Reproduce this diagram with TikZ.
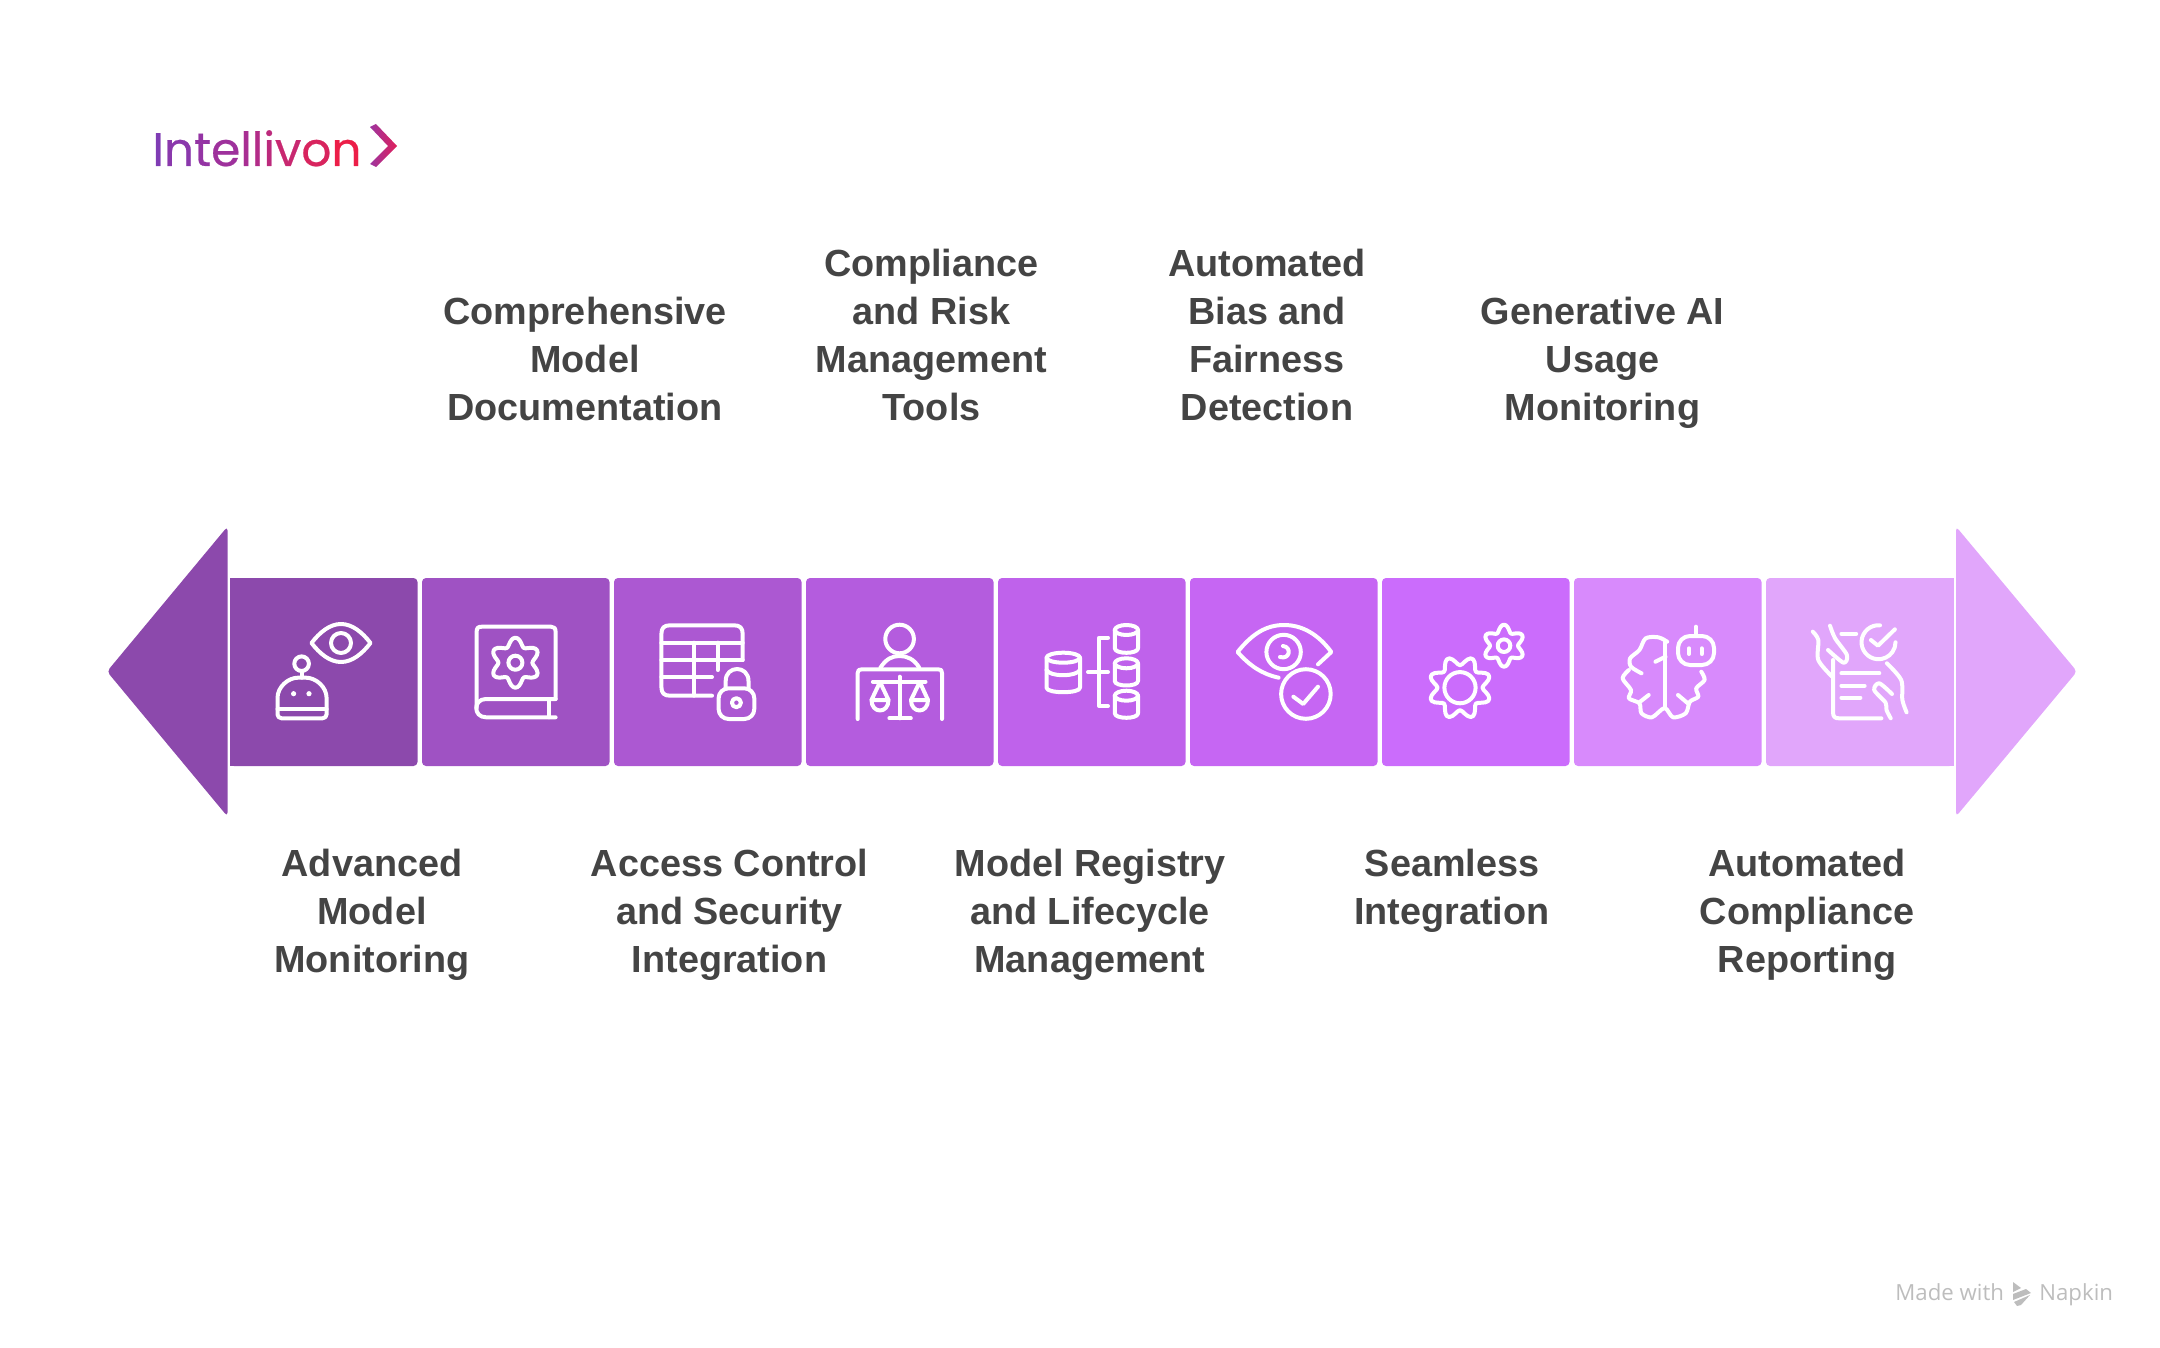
\documentclass[tikz,border=0pt]{standalone}
\usepackage{fontspec}
\setmainfont{Liberation Sans}
\newfontfamily\logofont[FakeBold=0.5]{Poppins}
\newfontfamily\footfont{Open Sans}
\usetikzlibrary{positioning}
\definecolor{ink}{HTML}{444444}
\definecolor{footgray}{HTML}{BDBDBD}
\definecolor{chevA}{HTML}{9C35A0}
\definecolor{chevB}{HTML}{E0205A}
\definecolor{cA}{HTML}{8C49AC}
\definecolor{cB}{HTML}{9F52C3}
\definecolor{cC}{HTML}{AC58D2}
\definecolor{cD}{HTML}{B45CDE}
\definecolor{cE}{HTML}{BF62EB}
\definecolor{cF}{HTML}{C666F3}
\definecolor{cG}{HTML}{CB6CFC}
\definecolor{cH}{HTML}{D88AFC}
\definecolor{cI}{HTML}{E1A6FB}
\tikzset{
	cell/.style={rectangle,rounded corners=2pt,minimum width=93.75pt,minimum height=94pt,inner sep=0pt},
	lab/.style={align=center,text=ink,inner sep=0pt,font=\fontsize{18.9}{24}\selectfont\bfseries},
	ico/.style={draw=white,line width=2pt,line cap=round,line join=round},
	logo/.style={inner sep=0pt,anchor=base west,font=\logofont\fontsize{23.5}{23.5}\selectfont},
	foot/.style={inner sep=0pt,anchor=base west,text=footgray,font=\footfont\fontsize{11.1}{12}\selectfont}
}
\newcommand{\gearline}[6]{%
	\draw[ico,shift={(#1,#2)}] plot[smooth cycle,domain=0:355,samples=72,variable=\t]
		({(#3+#4*cos(#5*(\t-#6)))*cos(\t)},{(#3+#4*cos(#5*(\t-#6)))*sin(\t)});
}
\newcommand{\dbline}[4]{%
	\draw[ico] (#1,{#3+5}) -- (#1,{#4-5}) .. controls (#1,{#4+1}) and (#2,{#4+1}) .. (#2,{#4-5}) -- (#2,{#3+5});
	\draw[ico] ({(#1+#2)/2},{#3+5}) ellipse [x radius={(#2-#1)/2},y radius=5];
}

\begin{document}
\begin{tikzpicture}[x=0.5pt,y=-0.5pt]
	\useasboundingbox (0,0) rectangle (2160,1348);
	
	%Arrows
	\fill[cA,rounded corners=2pt] (227.5,526.5) -- (107,671.5) -- (227.5,816.5) -- cycle;
	\fill[cI,rounded corners=2pt] (1956,526.5) -- (2077,671.5) -- (1956,816.5) -- cycle;
	
	%Cells
	\foreach \i/\c in {0/cA,1/cB,2/cC,3/cD,4/cE,5/cF,6/cG,7/cH,8/cI} {
		\node[cell,fill=\c] (cell\i) at ({323.75+192*\i},672) {};
	}
	\fill[cA] (cell0.south west) rectangle ([xshift=10pt]cell0.north west);
	\fill[cI] (cell8.south east) rectangle ([xshift=-10pt]cell8.north east);
	
	%Labels above
	\node[lab] (docu) at (585,358.6) {Comprehensive\\Model\\Documentation};
	\node[lab] (risk) at (931.5,334.6) {Compliance\\and Risk\\Management\\Tools};
	\node[lab] (bias) at (1267,334.6) {Automated\\Bias and\\Fairness\\Detection};
	\node[lab] (genai) at (1602.5,362.7) {Generative AI\\Usage\\Monitoring};
	
	%Labels below
	\node[lab] (moni) at (372,914.7) {Advanced\\Model\\Monitoring};
	\node[lab] (acce) at (729.5,914.7) {Access Control\\and Security\\Integration};
	\node[lab] (regi) at (1090,914.7) {Model Registry\\and Lifecycle\\Management};
	\node[lab] (seam) at (1452,890.7) {Seamless\\Integration};
	\node[lab] (repo) at (1807,914.7) {Automated\\Compliance\\Reporting};
	
	%Logo
	\node[logo] (logotext) at (152,166) {\textcolor[HTML]{7F3CB4}{I}\textcolor[HTML]{8A38AC}{n}\textcolor[HTML]{9434A4}{t}\textcolor[HTML]{9E319C}{e}\textcolor[HTML]{A82E92}{l}\textcolor[HTML]{B22C88}{l}\textcolor[HTML]{BC2A7C}{i}\textcolor[HTML]{C82870}{v}\textcolor[HTML]{D8245E}{o}\textcolor[HTML]{EC1E48}{n}};
	\shade[left color=chevA,right color=chevB] (370,127) -- (376,124) -- (397,146) -- (376,167) -- (370,164) -- (388,146) -- cycle;
	
	%Footer
	\node[foot] (made) at (1895,1300) {Made with};
	\node[foot] (napk) at (2039,1300) {Napkin};
	\fill[footgray] (2013,1282) -- (2021,1288) -- (2013,1292) -- cycle
		(2013,1294) -- (2026,1289) -- (2031,1293) -- (2013,1300) -- cycle
		(2014,1302) -- (2030,1295) -- (2021,1305) -- (2017,1306) -- cycle;
	
	%Robot and eye
	\draw[ico] (311.5,643) .. controls (320,632) and (330,624) .. (341,624) .. controls (352,624) and (362,632) .. (370.5,643) .. controls (362,654) and (352,662) .. (341,662) .. controls (330,662) and (320,654) .. (311.5,643) -- cycle;
	\draw[ico] (341,643) circle [radius=10];
	\draw[ico] (301.6,663.7) circle [radius=7.3];
	\draw[ico] (301.6,671) -- (301.6,677.7);
	\draw[ico,rounded corners=2pt] (277.5,718.3) -- (277.5,702) .. controls (277.5,687) and (288,677.7) .. (302,677.7) .. controls (316,677.7) and (326.6,687) .. (326.6,702) -- (326.6,718.3) -- cycle;
	\draw[ico] (277.5,709.3) -- (326.6,709.3);
	\fill[white] (293.6,693.7) circle [radius=2.6] (309,693.7) circle [radius=2.6];
	
	%Book
	\draw[ico] (555.6,699) -- (555.6,632) .. controls (555.6,628) and (554,626.7) .. (551,626.7) -- (482,626.7) .. controls (478,626.7) and (476.6,628) .. (476.6,632) -- (476.6,708);
	\draw[ico] (555.6,699) -- (486,699) .. controls (473,699) and (473,717.3) .. (486,717.3) -- (555.6,717.3);
	\draw[ico] (549,699) -- (549,717.3);
	\gearline{515.4}{662.7}{21}{4}{6}{90}
	\draw[ico] (515.4,662.7) circle [radius=7];
	
	%Table and lock
	\draw[ico] (712,695.7) -- (670,695.7) .. controls (664,695.7) and (661.4,693) .. (661.4,687) -- (661.4,634) .. controls (661.4,628) and (664,625.3) .. (670,625.3) -- (734,625.3) .. controls (740,625.3) and (742.7,628) .. (742.7,634) -- (742.7,660);
	\draw[ico] (661.4,642.7) -- (742.7,642.7) (661.4,660) -- (742.7,660) (661.4,677) -- (712,677);
	\draw[ico] (694,642.7) -- (694,695.7) (717.7,642.7) -- (717.7,670);
	\draw[ico,rounded corners=5pt] (718.6,688.3) rectangle (754.3,719);
	\draw[ico] (725.7,688.3) -- (725.7,681) .. controls (725.7,665) and (748.5,665) .. (748.5,681) -- (748.5,688.3);
	\draw[ico] (736.4,702.7) circle [radius=4.5];
	
	%Person with scales
	\draw[ico] (899.6,639) circle [radius=14.3];
	\draw[ico] (880.4,667.7) .. controls (886,659) and (892,656) .. (899.6,656) .. controls (907,656) and (914,659) .. (919.3,667.7);
	\draw[ico] (857.7,719) -- (857.7,673) .. controls (857.7,670) and (859,669.3) .. (862,669.3) -- (938,669.3) .. controls (941,669.3) and (942,670) .. (942,673) -- (942,719);
	\draw[ico] (872.9,681.7) -- (925.5,681.7) (899.6,676.7) -- (899.6,718.3) (889.4,718.3) -- (910.8,718.3);
	\draw[ico] (880,682) -- (871.5,700) -- (888.5,700) -- cycle (919.7,682) -- (911,700) -- (928,700) -- cycle;
	\draw[ico] (871.5,700) .. controls (871.5,714) and (888.5,714) .. (888.5,700);
	\draw[ico] (911,700) .. controls (911,714) and (928,714) .. (928,700);
	
	%Databases
	\dbline{1046.5}{1080}{652.7}{692.7}
	\draw[ico] (1046.5,670) .. controls (1050,677) and (1076,677) .. (1080,670);
	\dbline{1114.8}{1138}{625}{653.3}
	\dbline{1114.8}{1138}{658.3}{686}
	\dbline{1114.8}{1138}{690.7}{718.3}
	\draw[ico] (1108,637.7) -- (1099,637.7) -- (1099,706) -- (1108,706);
	\draw[ico] (1088,672) -- (1108,672);
	
	%Eye and check
	\draw[ico] (1278.6,677.7) .. controls (1262,674) and (1250,666) .. (1237.6,652) .. controls (1252,634) and (1266,625) .. (1284,625) .. controls (1302,625) and (1318,634) .. (1331.3,652) -- (1318,664.3);
	\draw[ico] (1283.6,652) circle [radius=17.2];
	\draw[ico] (1283,646) .. controls (1292,647) and (1290,660) .. (1280,657);
	\draw[ico] (1305.9,694) circle [radius=24.8];
	\draw[ico] (1293.4,696.7) -- (1303.2,704) -- (1318,686.7);
	
	%Gears
	\gearline{1460}{687.7}{27}{4.5}{8}{22.5}
	\draw[ico] (1460,687.7) circle [radius=15.6];
	\gearline{1504}{645.7}{17.5}{3.5}{6}{90}
	\draw[ico] (1504,645.7) circle [radius=6.3];
	
	%Brain and robot
	\draw[ico,rounded corners=6pt] (1678,636) rectangle (1714,665);
	\draw[ico] (1695.8,626.7) -- (1695.8,636) (1689,648.3) -- (1689,654) (1701.7,648.3) -- (1701.7,654);
	\draw[ico] (1664.6,641.7) -- (1664.6,708);
	\draw[ico] plot[smooth] coordinates {(1667.2,641.7) (1658.3,637.3) (1645.7,638.3) (1639.4,650) (1630.1,658.3) (1631,666.7) (1641.5,673.3)};
	\draw[ico] plot[smooth] coordinates {(1628.9,670) (1622.6,678.3) (1631,690) (1628.9,698.3) (1639.4,703.3) (1641.5,713.3) (1652,717.3) (1664.6,708) (1673,717.3) (1685.7,713.3) (1689.9,701.7) (1698.3,696.7) (1696.2,688.3) (1704.6,680) (1701.3,671.7)};
	\draw[ico] (1648.7,695) -- (1639.4,702.3) (1655.4,661.7) -- (1665.5,656.7) (1678,695) -- (1687.8,703.3);
	
	%Hands and document
	\draw[ico] (1833,660) -- (1833,712) .. controls (1833,717) and (1835,718.3) .. (1839,718.3) -- (1881.4,718.3);
	\draw[ico] (1841.4,633.7) -- (1856.2,633.7) (1841.4,673.3) -- (1879.3,673.3) (1841.4,685.7) -- (1864.6,685.7) (1841.4,697.7) -- (1860.4,697.7);
	\draw[ico] (1880,625.3) arc[start angle=-85,end angle=-360,radius=17];
	\draw[ico] (1870.9,640) -- (1878,645.7) -- (1894.9,629.3);
	\draw[ico] plot[smooth] coordinates {(1812.8,631.7) (1818.3,640) (1818.3,660) (1832.2,676.7)};
	\draw[ico] plot[smooth] coordinates {(1830,625.7) (1835.1,638.3) (1846.9,655) (1843.5,662.7) (1828,650)};
	\draw[ico] plot[smooth] coordinates {(1886.9,663.3) (1901.2,680) (1902.4,700) (1906.6,712.3)};
	\draw[ico] plot[smooth] coordinates {(1892,694) (1879.3,683.3) (1874.2,690) (1885.6,702.7) (1886.5,710) (1890.7,718.3)};
	
\end{tikzpicture}
\end{document}
